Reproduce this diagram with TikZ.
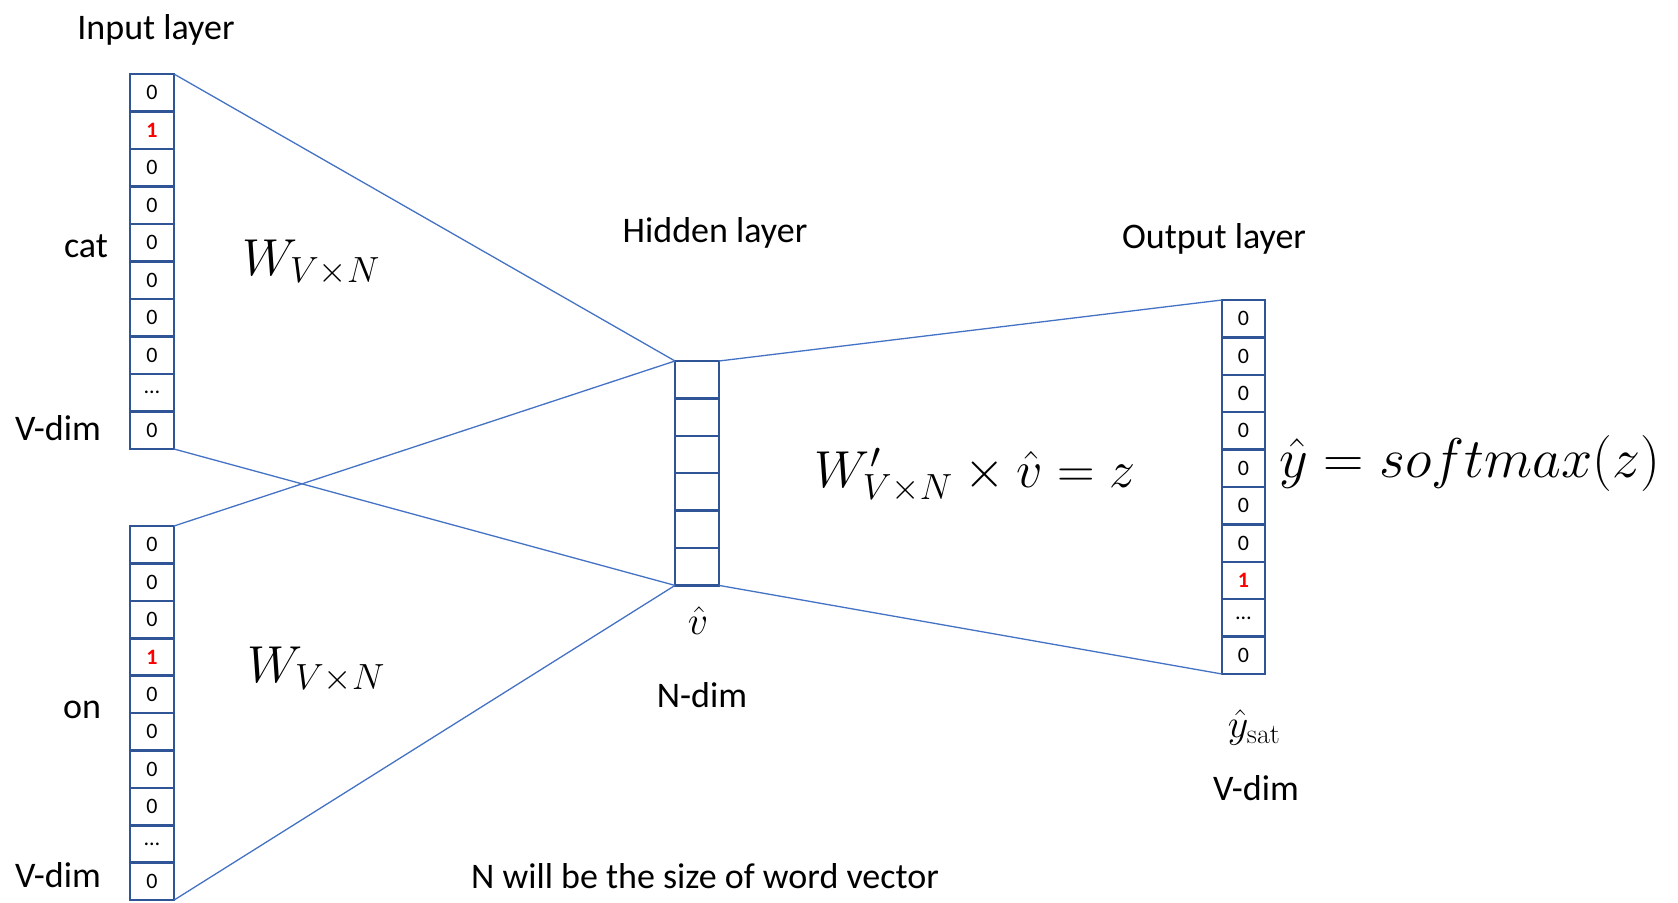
\RequirePackage{fix-cm}
\documentclass[tikz,border=0pt]{standalone}
\usepackage[no-math]{fontspec}
\setmainfont{Carlito}
\definecolor{lineblue}{HTML}{4472C4}
\definecolor{boxblue}{HTML}{2F5597}
\definecolor{onered}{HTML}{FF0000}
\begin{document}
\begin{tikzpicture}[x=1pt,y=-1pt,
  cellbox/.style={draw=boxblue, line width=2.4pt, minimum width=44pt, minimum height=37.5pt, inner sep=0pt, outer sep=0pt, font=\fontsize{22}{25}\selectfont, anchor=north west},
  link/.style={draw=lineblue, line width=1.3pt},
  lbl/.style={font=\fontsize{36}{42}\selectfont, anchor=base, inner sep=0pt},
  mth/.style={font=\fontsize{52}{60}\selectfont, anchor=base, inner sep=0pt},
  smallmth/.style={font=\fontsize{40}{46}\selectfont, inner sep=0pt}]
\fill[white] (0,0) rectangle (1678,902);
\useasboundingbox (0,0) rectangle (1678,902);
% input top
\foreach \v [count=\i] in {0,{\textcolor{onered}{\textbf{1}}},0,0,0,0,0,0,…,0}
  \node[cellbox] (a\i) at (130,{74+37.5*(\i-1)}) {\v};
% input bottom
\foreach \v [count=\i] in {0,0,0,{\textcolor{onered}{\textbf{1}}},0,0,0,0,…,0}
  \node[cellbox] (b\i) at (130,{526+37.4*(\i-1)}) {\v};
% hidden
\foreach \i in {1,...,6}
  \node[cellbox, minimum width=44pt, minimum height=37.4pt] (h\i) at (675,{361+37.4*(\i-1)}) {};
% output
\foreach \v [count=\i] in {0,0,0,0,0,0,0,{\textcolor{onered}{\textbf{1}}},…,0}
  \node[cellbox, minimum width=43pt, minimum height=37.4pt] (o\i) at (1222,{300+37.4*(\i-1)}) {\v};
% connectors
\draw[link] (a1.north east) -- (h1.north west);
\draw[link] (a10.south east) -- (h6.south west);
\draw[link] (b1.north east) -- (h1.north west);
\draw[link] (b10.south east) -- (h6.south west);
\draw[link] (h1.north east) -- (o1.north west);
\draw[link] (h6.south east) -- (o10.south west);
% labels
\node[lbl] (tin) at (156,39) {Input layer};
\node[lbl] (tcat) at (86,257) {cat};
\node[lbl] (tv1) at (58,440) {V-dim};
\node[lbl] (ton) at (82,718) {on};
\node[lbl] (tv2) at (58,887) {V-dim};
\node[lbl] (thid) at (715,242) {Hidden layer};
\node[lbl] (tout) at (1214,248) {Output layer};
\node[lbl] (tnd) at (702,707) {N-dim};
\node[lbl] (tvd) at (1256,800) {V-dim};
\node[lbl] (tnote) at (705,888) {N will be the size of word vector};
% math
\node[mth] (w1) at (311,275) {$W_{V\times N}$};
\node[mth] (w2) at (316,682) {$W_{V\times N}$};
\node[mth] (wp) at (975,487) {$W'_{V\times N}\times\hat{v}=z$};
\node[mth, font=\fontsize{56}{62}\selectfont] (sm) at (1470,477) {$\hat{y}=softmax(z)$};
\node[smallmth] (vh) at (698,621) {$\hat{v}$};
\node[smallmth] (ys) at (1254,727) {$\hat{y}_{\mathrm{sat}}$};
\end{tikzpicture}
\end{document}
